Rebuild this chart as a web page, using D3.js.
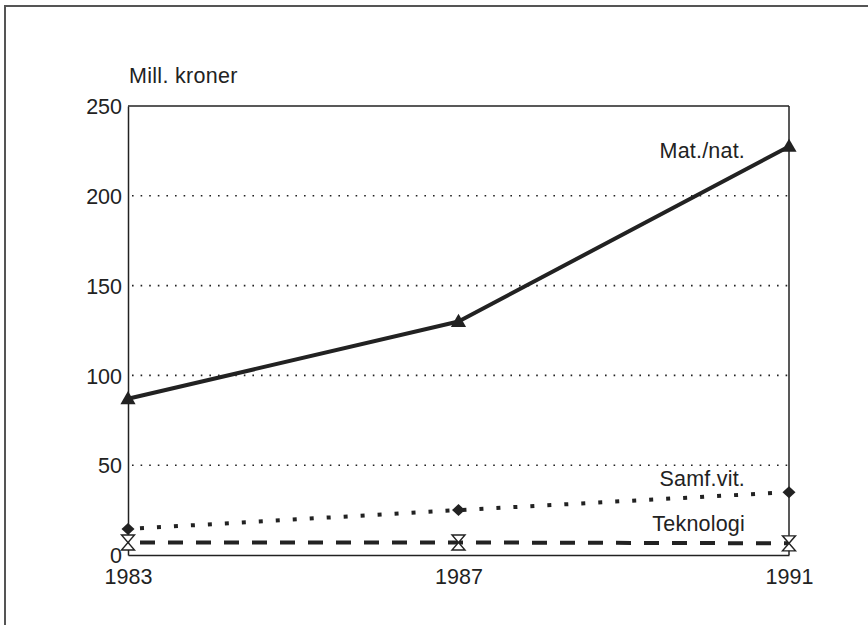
<!DOCTYPE html>
<html>
<head>
<meta charset="utf-8">
<script src="https://cdn.jsdelivr.net/npm/d3@7"></script>
<style>
  html, body { margin: 0; padding: 0; background: #fff; }
  svg { display: block; }
  text { font-family: "Liberation Sans", Arial, Helvetica, sans-serif; fill: #222; }
</style>
</head>
<body>
<svg id="chart" width="868" height="625"></svg>
<script>
// Research funding by field, million kroner
const years = [1983, 1987, 1991];
const matNat = [87, 130, 227.5];
const samfVit = [14.5, 25, 35];
const teknologi = [7, 7, 6.5];
const yTicks = [0, 50, 100, 150, 200, 250];
const seriesNames = ["Mat./nat.", "Samf.vit.", "Teknologi"];

const ink = "#222";
const fontSize = "21.5px";
const svg = d3.select("#chart");

// outer frame (runs off the right and bottom edges)
svg.append("rect")
  .attr("x", 5).attr("y", 6)
  .attr("width", 900).attr("height", 700)
  .attr("fill", "none").attr("stroke", "#555").attr("stroke-width", 2);

const x = d3.scaleLinear().domain([1983, 1991]).range([128, 789]);
const y = d3.scaleLinear().domain([0, 250]).range([555, 106]);

// dotted horizontal gridlines
svg.append("g").selectAll("line")
  .data(yTicks.filter(t => t > 0 && t < 250))
  .join("line")
  .attr("x1", x(1983) + 4).attr("x2", x(1991))
  .attr("y1", d => y(d)).attr("y2", d => y(d))
  .attr("stroke", ink).attr("stroke-width", 1.6)
  .attr("stroke-dasharray", "1.6,7");

// y axis
const yAxis = d3.axisLeft(y).tickValues(yTicks).tickSize(0).tickPadding(6);
const gy = svg.append("g").attr("transform", `translate(${x(1983)},0)`).call(yAxis);
gy.select(".domain").attr("stroke", ink).attr("stroke-width", 1.5);
gy.selectAll("text").style("font-size", fontSize).attr("fill", ink).attr("dy", "0.36em");

// x axis
const xAxis = d3.axisBottom(x).tickValues(years).tickFormat(d3.format("d")).tickSize(0).tickPadding(14);
const gx = svg.append("g").attr("transform", `translate(0,${y(0)})`).call(xAxis);
gx.select(".domain").attr("stroke", ink).attr("stroke-width", 1.5);
gx.selectAll("text").style("font-size", fontSize).attr("fill", ink);

// top and right edges of the plot box
svg.append("line").attr("x1", x(1983)).attr("x2", x(1991)).attr("y1", y(250)).attr("y2", y(250))
  .attr("stroke", ink).attr("stroke-width", 1.5);
svg.append("line").attr("x1", x(1991)).attr("x2", x(1991)).attr("y1", y(250)).attr("y2", y(0))
  .attr("stroke", ink).attr("stroke-width", 1.5);

// unit label
svg.append("text").attr("x", 129).attr("y", 83)
  .style("font-size", fontSize).style("letter-spacing", "0.3px")
  .text("Mill. kroner");

const line = d3.line().x(d => x(d[0])).y(d => y(d[1]));
const pts = vals => years.map((yr, i) => [yr, vals[i]]);

// lines
svg.append("path").datum(pts(matNat)).attr("d", line)
  .attr("fill", "none").attr("stroke", ink).attr("stroke-width", 4).attr("stroke-linejoin", "round");
svg.append("path").datum(pts(samfVit)).attr("d", line)
  .attr("fill", "none").attr("stroke", ink).attr("stroke-width", 4)
  .attr("stroke-dasharray", "4,13").attr("stroke-dashoffset", -12);
svg.append("path").datum(pts(teknologi)).attr("d", line)
  .attr("fill", "none").attr("stroke", ink).attr("stroke-width", 4)
  .attr("stroke-dasharray", "15,13").attr("stroke-dashoffset", -12);

// marker shapes
const diamond = {
  draw(ctx, size) {
    const w = 6.5, h = 6;
    ctx.moveTo(0, -h); ctx.lineTo(w, 0); ctx.lineTo(0, h); ctx.lineTo(-w, 0); ctx.closePath();
  }
};
const hourglass = {
  draw(ctx, size) {
    const w = 6.5, h = 7.5;
    ctx.moveTo(-w, -h); ctx.lineTo(w, -h); ctx.lineTo(-w, h); ctx.lineTo(w, h); ctx.closePath();
  }
};

svg.append("g").selectAll("path").data(pts(matNat)).join("path")
  .attr("transform", d => `translate(${x(d[0])},${y(d[1]) + 1})`)
  .attr("d", d3.symbol(d3.symbolTriangle, 100))
  .attr("fill", ink);

svg.append("g").selectAll("path").data(pts(samfVit)).join("path")
  .attr("transform", d => `translate(${x(d[0])},${y(d[1])})`)
  .attr("d", d3.symbol(diamond))
  .attr("fill", ink);

svg.append("g").selectAll("path").data(pts(teknologi)).join("path")
  .attr("transform", d => `translate(${x(d[0])},${y(d[1])})`)
  .attr("d", d3.symbol(hourglass))
  .attr("fill", "#fff").attr("stroke", ink).attr("stroke-width", 1.4).attr("stroke-linejoin", "miter");

// series labels
const labelX = x(1991) - 44;
const labels = [
  { name: seriesNames[0], v: matNat[2], dy: 12 },
  { name: seriesNames[1], v: samfVit[2], dy: -6 },
  { name: seriesNames[2], v: teknologi[2], dy: -12 }
];
svg.append("g").selectAll("text").data(labels).join("text")
  .attr("x", labelX).attr("y", d => y(d.v) + d.dy)
  .attr("text-anchor", "end")
  .style("font-size", fontSize).style("letter-spacing", "0.2px")
  .text(d => d.name);
</script>
</body>
</html>
